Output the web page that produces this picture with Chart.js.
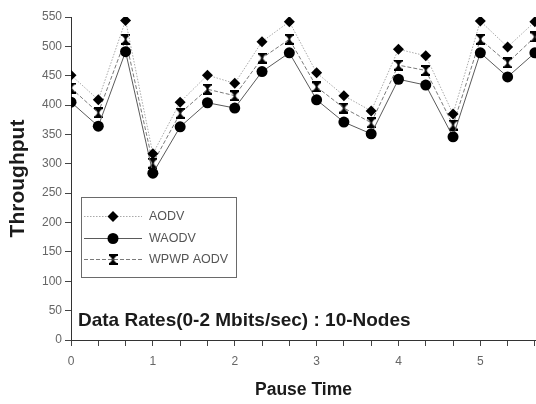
<!DOCTYPE html>
<html>
<head>
<meta charset="utf-8">
<script src="https://cdn.jsdelivr.net/npm/chart.js@4.4.1/dist/chart.umd.min.js"></script>
<style>
  html, body { margin: 0; padding: 0; background: #fff; }
  canvas { display: block; }
</style>
</head>
<body>
<canvas id="throughput" width="536" height="404"></canvas>
<script>
// pause time samples, three per labelled unit
const pauseTime = [0, 1/3, 2/3, 1, 4/3, 5/3, 2, 7/3, 8/3, 3, 10/3, 11/3, 4, 13/3, 14/3, 5, 16/3, 17/3];
const aodv  = [451, 409, 544, 317, 405, 451, 437, 508, 542, 455, 416, 390, 495, 484, 385, 543, 499, 542];
const waodv = [405, 364, 491, 284, 363, 404, 395, 457, 489, 409, 371, 351, 444, 434, 346, 489, 448, 489];
const wpwp  = [429, 387, 512, 301, 386, 427, 416, 480, 512, 431, 395, 370, 468, 459, 366, 512, 472, 516];
const yTicks = [0, 50, 100, 150, 200, 250, 300, 350, 400, 450, 500, 550];
const caption = 'Data Rates(0-2 Mbits/sec) : 10-Nodes';

const toPoints = vals => pauseTime.map((x, i) => ({ x: x, y: vals[i] }));

// small hourglass marker for the WPWP series
function makeHourglass() {
    const c = document.createElement('canvas');
    c.width = 9; c.height = 11;
    const g = c.getContext('2d');
    g.fillStyle = '#000';
    g.fillRect(0, 0, 9, 2);
    g.fillRect(0, 9, 9, 2);
    g.beginPath(); g.moveTo(1, 2); g.lineTo(8, 2); g.lineTo(4.5, 5.5); g.closePath(); g.fill();
    g.beginPath(); g.moveTo(1, 9); g.lineTo(8, 9); g.lineTo(4.5, 5.5); g.closePath(); g.fill();
    g.fillRect(3.5, 4, 2, 3);
    return c;
}

const tickFont = { family: "'Liberation Sans', Arial, sans-serif", size: 12 };

// boxed legend and caption sitting inside the plot
const insideNotes = {
    id: 'insideNotes',
    afterDatasetsDraw(chart) {
        const c = chart.ctx;
        c.save();
        c.font = "bold 19px 'Liberation Sans', Arial, sans-serif";
        c.fillStyle = '#1b1b1b';
        c.textBaseline = 'alphabetic';
        c.fillText(caption, 78, 326);

        c.fillStyle = '#fff';
        c.fillRect(81, 197, 156, 81);
        c.strokeStyle = '#6a6a6a';
        c.lineWidth = 1;
        c.strokeRect(81.5, 197.5, 155, 80);

        c.font = "12.5px 'Liberation Sans', Arial, sans-serif";
        c.textBaseline = 'middle';
        chart.data.datasets.forEach((ds, i) => {
            const y = 216 + i * 21.5;
            c.strokeStyle = ds.borderColor;
            c.lineWidth = ds.borderWidth;
            c.setLineDash(ds.borderDash || []);
            c.beginPath();
            c.moveTo(84, Math.round(y) + 0.5);
            c.lineTo(142, Math.round(y) + 0.5);
            c.stroke();
            c.setLineDash([]);
            c.fillStyle = '#000';
            c.strokeStyle = '#000';
            Chart.helpers.drawPoint(c, {
                pointStyle: ds.pointStyle, rotation: 0,
                radius: ds.pointRadius, borderWidth: 0
            }, 113, Math.round(y) + 0.5);
            c.fillStyle = '#555';
            c.fillText(ds.label, 149, y + 1);
        });
        c.restore();
    }
};

new Chart(document.getElementById('throughput').getContext('2d'), {
    type: 'line',
    data: {
        datasets: [
            {
                label: 'AODV', data: toPoints(aodv),
                borderColor: '#a9a9a9', borderWidth: 1, borderDash: [1.5, 1.5],
                pointStyle: 'rectRot', pointRadius: 5.5,
                pointBackgroundColor: '#000', pointBorderColor: '#000', pointBorderWidth: 0
            },
            {
                label: 'WAODV', data: toPoints(waodv),
                borderColor: '#5a5a5a', borderWidth: 1, borderDash: [],
                pointStyle: 'circle', pointRadius: 5.5,
                pointBackgroundColor: '#000', pointBorderColor: '#000', pointBorderWidth: 0
            },
            {
                label: 'WPWP AODV', data: toPoints(wpwp),
                borderColor: '#7a7a7a', borderWidth: 1, borderDash: [4, 2],
                pointStyle: makeHourglass(), pointRadius: 5,
                pointBackgroundColor: '#000', pointBorderColor: '#000', pointBorderWidth: 0
            }
        ]
    },
    options: {
        responsive: false,
        animation: false,
        layout: { autoPadding: false, padding: { top: 17, left: 0, right: 0, bottom: 0 } },
        scales: {
            x: {
                type: 'linear', min: 0, max: 5.68,
                afterBuildTicks: s => { s.ticks = pauseTime.map(v => ({ value: v })); },
                // the axis runs right up to the canvas edge
                afterFit: s => { s.height = 64; s.paddingRight = 0; },
                grid: { drawOnChartArea: false, drawTicks: true, tickLength: 6, color: '#444' },
                border: { display: true, color: '#333', width: 1 },
                ticks: {
                    autoSkip: false, maxRotation: 0, padding: 8, color: '#666', font: tickFont,
                    callback: v => Math.abs(v - Math.round(v)) < 1e-6 ? String(Math.round(v)) : ''
                },
                title: {
                    display: true, text: 'Pause Time', color: '#1b1b1b',
                    font: { family: "'Liberation Sans', Arial, sans-serif", size: 17.5, weight: 'bold' },
                    padding: { top: 0, bottom: 3 }
                }
            },
            y: {
                min: 0, max: 550,
                afterBuildTicks: s => { s.ticks = yTicks.map(v => ({ value: v })); },
                afterFit: s => { s.width = 71; },
                grid: { drawOnChartArea: false, drawTicks: true, tickLength: 6, color: '#444' },
                border: { display: true, color: '#333', width: 1 },
                ticks: { padding: 3, color: '#666', font: tickFont },
                title: {
                    display: true, text: 'Throughput', color: '#1b1b1b',
                    font: { family: "'Liberation Sans', Arial, sans-serif", size: 21, weight: 'bold' },
                    padding: { top: 6, bottom: 0 }
                }
            }
        },
        plugins: {
            legend: { display: false },
            tooltip: { enabled: false }
        }
    },
    plugins: [insideNotes]
});
</script>
</body>
</html>
